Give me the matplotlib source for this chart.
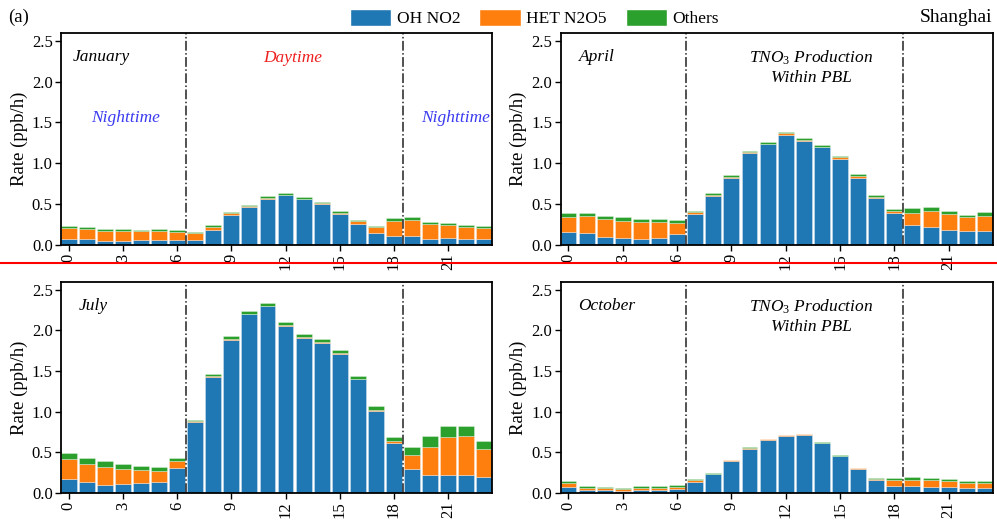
import matplotlib
matplotlib.use("Agg")
import matplotlib.pyplot as plt
import numpy as np
from matplotlib.lines import Line2D
from matplotlib.patches import Patch

plt.rcParams["font.family"] = ["Liberation Serif", "DejaVu Serif"]
plt.rcParams["mathtext.fontset"] = "custom"
plt.rcParams["mathtext.rm"] = "Liberation Serif"
plt.rcParams["mathtext.it"] = "Liberation Serif:italic"

HOURS = np.arange(24)
SERIES = ["OH NO2", "HET N2O5", "Others"]
COLORS = ["#1f77b4", "#ff7f0e", "#2ca02c"]

# (OH NO2, HET N2O5, Others) per hour, ppb/h
jan_oh = [0.07, 0.078, 0.053, 0.053, 0.06, 0.065, 0.065, 0.06, 0.184, 0.367, 0.461, 0.567,
          0.612, 0.563, 0.502, 0.38, 0.253, 0.147, 0.11, 0.11, 0.078, 0.09, 0.078, 0.069]
jan_het = [0.138, 0.118, 0.122, 0.118, 0.107, 0.106, 0.098, 0.083, 0.04, 0.021, 0.012, 0.013,
           0.006, 0.006, 0.006, 0.012, 0.041, 0.069, 0.184, 0.196, 0.179, 0.155, 0.138, 0.135]
jan_oth = [0.02, 0.02, 0.021, 0.021, 0.017, 0.021, 0.021, 0.02, 0.016, 0.016, 0.017, 0.016,
           0.015, 0.015, 0.019, 0.02, 0.012, 0.021, 0.032, 0.033, 0.029, 0.028, 0.024, 0.024]

apr_oh = [0.163, 0.143, 0.102, 0.09, 0.078, 0.09, 0.131, 0.376, 0.596, 0.816, 1.127, 1.233,
          1.351, 1.278, 1.2, 1.057, 0.824, 0.58, 0.388, 0.241, 0.216, 0.184, 0.175, 0.175]
apr_het = [0.184, 0.212, 0.216, 0.208, 0.2, 0.192, 0.142, 0.024, 0.016, 0.021, 0.016, 0.008,
           0.016, 0.008, 0.006, 0.016, 0.017, 0.012, 0.028, 0.155, 0.196, 0.192, 0.164, 0.184]
apr_oth = [0.049, 0.041, 0.041, 0.041, 0.036, 0.036, 0.029, 0.02, 0.021, 0.02, 0.012, 0.016,
           0.013, 0.02, 0.014, 0.013, 0.024, 0.02, 0.025, 0.061, 0.049, 0.044, 0.032, 0.045]

jul_oh = [0.172, 0.131, 0.102, 0.11, 0.118, 0.135, 0.302, 0.87, 1.426, 1.887, 2.198, 2.296,
          2.059, 1.908, 1.85, 1.716, 1.397, 1.005, 0.613, 0.294, 0.221, 0.225, 0.221, 0.2]
jul_het = [0.245, 0.224, 0.217, 0.188, 0.16, 0.135, 0.09, 0.012, 0.008, 0.008, 0.006, 0.006,
           0.008, 0.01, 0.008, 0.008, 0.008, 0.016, 0.032, 0.176, 0.347, 0.469, 0.482, 0.347]
jul_oth = [0.081, 0.074, 0.069, 0.057, 0.057, 0.053, 0.041, 0.021, 0.033, 0.033, 0.035, 0.035,
           0.037, 0.035, 0.037, 0.037, 0.037, 0.045, 0.049, 0.098, 0.135, 0.127, 0.118, 0.094]

oct_oh = [0.078, 0.037, 0.033, 0.025, 0.037, 0.041, 0.053, 0.139, 0.229, 0.392, 0.547, 0.658,
          0.707, 0.719, 0.617, 0.453, 0.298, 0.155, 0.09, 0.082, 0.078, 0.074, 0.065, 0.065]
oct_het = [0.045, 0.028, 0.024, 0.024, 0.024, 0.02, 0.021, 0.016, 0.008, 0.012, 0.004, 0.004,
           0.004, 0.004, 0.004, 0.006, 0.004, 0.012, 0.073, 0.081, 0.077, 0.069, 0.062, 0.053]
oct_oth = [0.024, 0.025, 0.021, 0.016, 0.021, 0.021, 0.02, 0.012, 0.004, 0.004, 0.009, 0.008,
           0.008, 0.008, 0.008, 0.011, 0.008, 0.021, 0.025, 0.029, 0.025, 0.024, 0.024, 0.025]

PANELS = [
    ("January", jan_oh, jan_het, jan_oth),
    ("April", apr_oh, apr_het, apr_oth),
    ("July", jul_oh, jul_het, jul_oth),
    ("October", oct_oh, oct_het, oct_oth),
]

XTICKS = [0, 3, 6, 9, 12, 15, 18, 21]
YTICKS = [0.0, 0.5, 1.0, 1.5, 2.0, 2.5]

# axes rectangles in figure fractions: [left, bottom, width, height]
RECTS = [
    [0.0612, 0.5307, 0.4326, 0.4067],
    [0.5624, 0.5307, 0.4336, 0.4067],
    [0.0612, 0.0556, 0.4326, 0.4048],
    [0.5624, 0.0556, 0.4336, 0.4048],
]

fig = plt.figure(figsize=(9.97, 5.22), dpi=100)

for rect, (month, oh, het, oth) in zip(RECTS, PANELS):
    ax = fig.add_axes(rect)
    oh, het, oth = np.array(oh), np.array(het), np.array(oth)
    kw = dict(width=0.88, edgecolor=(1, 1, 1, 0.45), linewidth=0.5)
    ax.bar(HOURS, oh, color=COLORS[0], **kw)
    ax.bar(HOURS, het, bottom=oh, color=COLORS[1], **kw)
    ax.bar(HOURS, oth, bottom=oh + het, color=COLORS[2], **kw)

    for xv in (6.5, 18.5):
        ax.axvline(xv, color="#222222", linestyle="-.", linewidth=1.1)

    ax.set_xlim(-0.43, 23.45)
    ax.set_ylim(0, 2.6)
    ax.set_xticks(XTICKS)
    ax.set_xticklabels([str(t) for t in XTICKS], rotation=90, fontsize=12)
    ax.set_yticks(YTICKS)
    ax.set_yticklabels([f"{t:.1f}" for t in YTICKS], fontsize=12)
    ax.tick_params(direction="out", length=4, width=1.0, pad=2)
    for sp in ax.spines.values():
        sp.set_linewidth(1.3)
    ax.set_ylabel("Rate (ppb/h)", fontsize=13.5, labelpad=3)

    ax.text(0.22 if month == "January" else 0.55, 2.3, month,
            fontsize=12.5, style="italic", va="center", ha="left")

    if month == "January":
        ax.text(12.4, 2.29, "Daytime", color="#ee2020", fontsize=12.5,
                style="italic", ha="center", va="center")
        ax.text(3.15, 1.56, "Nighttime", color="#3a3af0", fontsize=12.5,
                style="italic", ha="center", va="center")
        ax.text(21.4, 1.56, "Nighttime", color="#3a3af0", fontsize=12.5,
                style="italic", ha="center", va="center")
    elif month in ("April", "October"):
        ax.text(13.4, 2.18, "TNO$_3$ Production\nWithin PBL", fontsize=12.5,
                style="italic", ha="center", va="center", multialignment="center",
                linespacing=1.25)

handles = [Patch(facecolor=c, edgecolor="white") for c in COLORS]
fig.legend(handles, SERIES, loc="center", bbox_to_anchor=(0.536, 0.965), ncol=3,
           frameon=False, fontsize=12.5, handlelength=2.4, handleheight=1.1,
           handletextpad=0.3, columnspacing=1.1)

fig.text(0.008, 0.966, "(a)", fontsize=13.5, ha="left", va="center")
fig.text(0.995, 0.966, "Shanghai", fontsize=14, ha="right", va="center")

fig.add_artist(Line2D([0, 1], [0.497, 0.497], color="red", linewidth=1.5,
                      transform=fig.transFigure))

fig.savefig("out.png", dpi=100)
